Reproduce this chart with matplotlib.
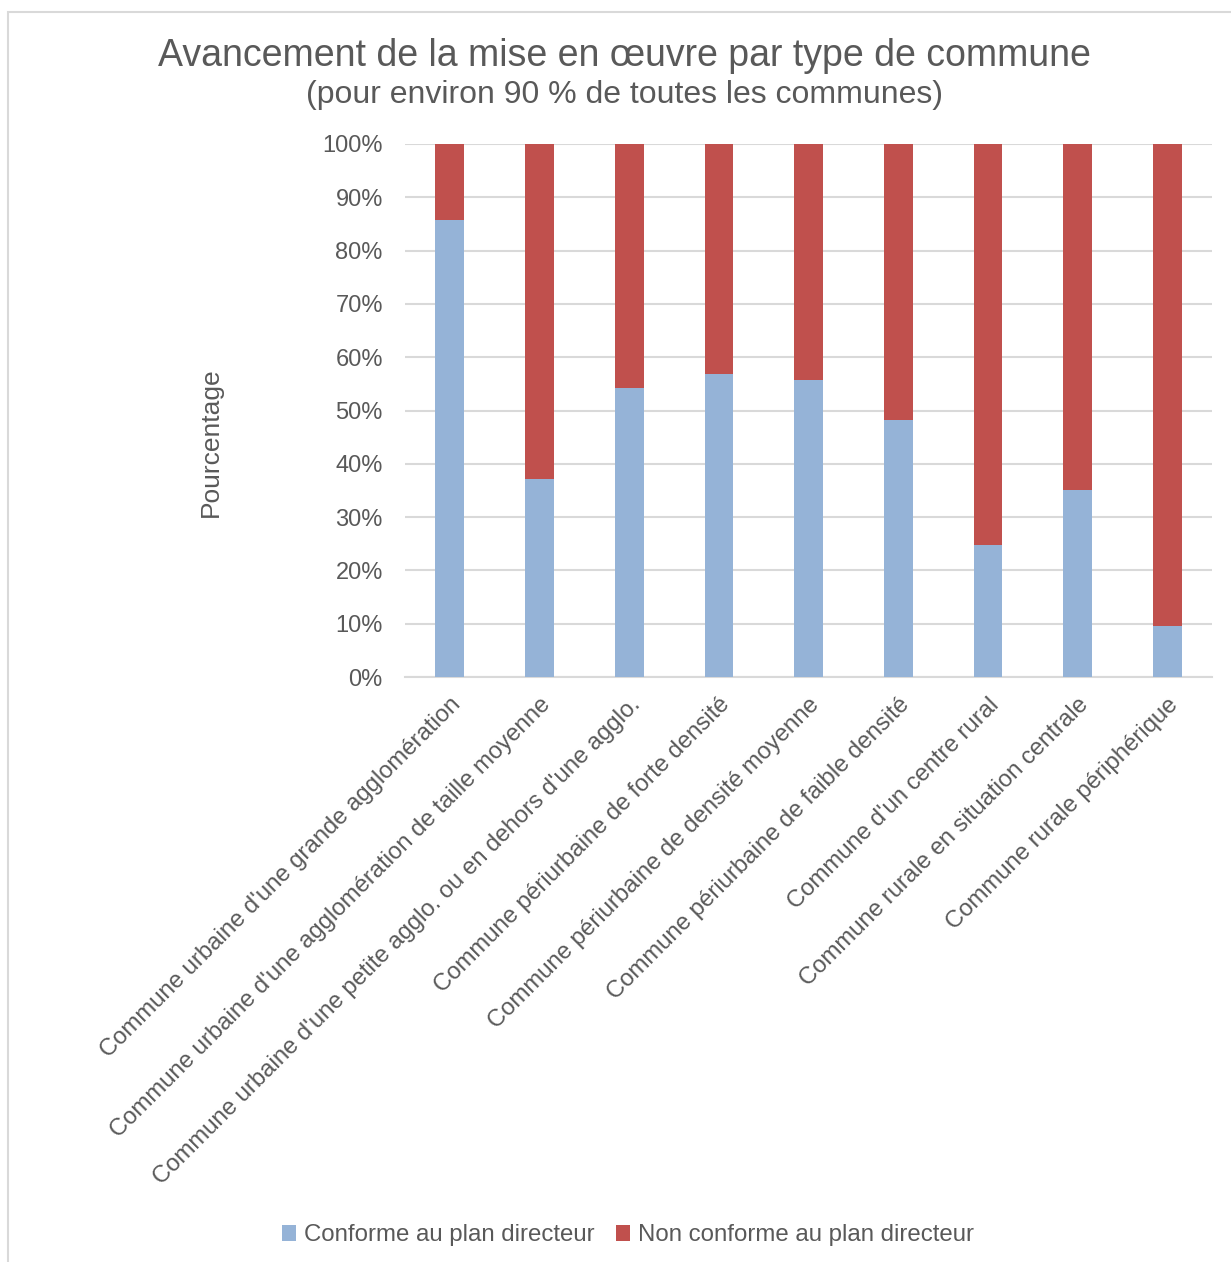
import matplotlib.pyplot as plt
from matplotlib.patches import Rectangle

plt.rcParams['font.family'] = ['Liberation Sans', 'DejaVu Sans']

categories = [
    "Commune urbaine d'une grande agglomération",
    "Commune urbaine d'une agglomération de taille moyenne",
    "Commune urbaine d'une petite agglo. ou en dehors d'une agglo.",
    "Commune périurbaine de forte densité",
    "Commune périurbaine de densité moyenne",
    "Commune périurbaine de faible densité",
    "Commune d'un centre rural",
    "Commune rurale en situation centrale",
    "Commune rurale périphérique",
]
conforme = [85.7, 37.1, 54.2, 56.8, 55.7, 48.2, 24.8, 35.1, 9.6]
non_conforme = [100 - v for v in conforme]

blue = '#95B3D7'
red = '#C0504D'
grey = '#595959'

fig = plt.figure(figsize=(12.31, 12.62), dpi=100)
ax = fig.add_axes([0.329, 0.4635, 0.6556, 0.4224])

x = range(len(categories))
ax.bar(x, conforme, width=0.32, color=blue, label='Conforme au plan directeur', zorder=3)
ax.bar(x, non_conforme, width=0.32, bottom=conforme, color=red,
       label='Non conforme au plan directeur', zorder=3)

ax.set_xlim(-0.5, len(categories) - 0.5)
ax.set_ylim(0, 100)
ax.set_yticks(range(0, 101, 10))
ax.set_yticklabels([f'{v}%' for v in range(0, 101, 10)], fontsize=17, color=grey)
ax.set_xticks(list(x))
ax.set_xticklabels(categories, rotation=45, ha='right', rotation_mode='anchor',
                   fontsize=17.2, color=grey)
ax.tick_params(axis='y', length=0, pad=16)
ax.tick_params(axis='x', length=0, pad=12)
ax.grid(axis='y', color='#D9D9D9', linewidth=1.5, zorder=0)
for s in ['top', 'right', 'left']:
    ax.spines[s].set_visible(False)
ax.spines['bottom'].set_color('#D9D9D9')
ax.spines['bottom'].set_linewidth(1.5)

fig.text(0.171, 0.65, 'Pourcentage', rotation=90, ha='center', va='center',
         fontsize=19, color=grey)
fig.text(0.507, 0.956, 'Avancement de la mise en œuvre par type de commune',
         ha='center', va='center', fontsize=27, color=grey)
fig.text(0.507, 0.925, '(pour environ 90 % de toutes les communes)',
         ha='center', va='center', fontsize=23, color=grey)

fig.legend(loc='center', bbox_to_anchor=(0.51, 0.021), ncol=2, frameon=False,
           fontsize=17.3, labelcolor=grey, handlelength=0.6, handleheight=0.6,
           handletextpad=0.3, columnspacing=0.9)

fig.patches.append(Rectangle((8 / 1231, -0.01), 1.1, 1 - 12 / 1262 + 0.01,
                             transform=fig.transFigure, fill=False,
                             edgecolor='#D9D9D9', linewidth=1.5))

fig.savefig('out.png', dpi=100)
